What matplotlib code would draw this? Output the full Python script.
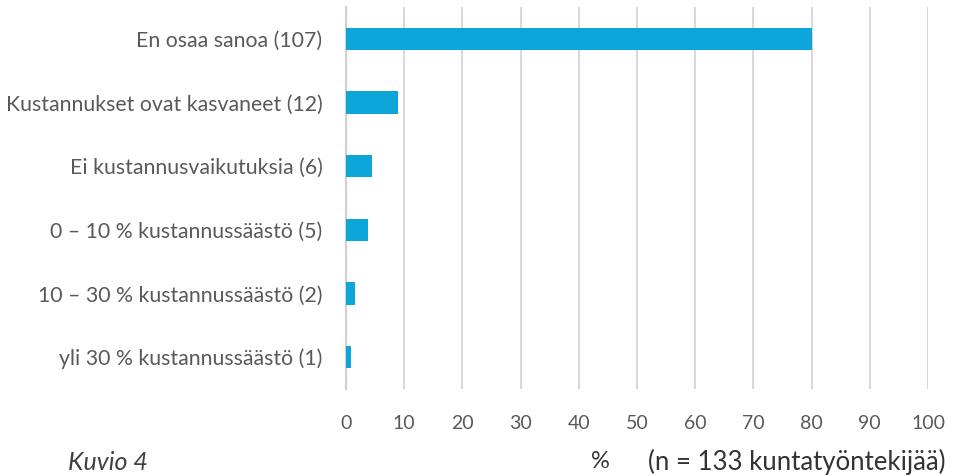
import matplotlib.pyplot as plt

# Vastausluokat ja osuudet (%), n = 133
luokat = ['En osaa sanoa (107)', 'Kustannukset ovat kasvaneet (12)',
          'Ei kustannusvaikutuksia (6)', '0 – 10 % kustannussäästö (5)',
          '10 – 30 % kustannussäästö (2)', 'yli 30 % kustannussäästö (1)']
osuudet = [80.1, 9.0, 4.5, 3.8, 1.5, 0.8]
x_ticks = [0, 10, 20, 30, 40, 50, 60, 70, 80, 90, 100]

plt.rcParams['font.family'] = ['Lato', 'DejaVu Sans']
teksti = '#595959'

fig = plt.figure(figsize=(9.55, 4.76), dpi=100)
ax = fig.add_axes([346 / 955, 1 - 389 / 476, (928 - 346) / 955, (389 - 7) / 476])

y = list(range(len(luokat)))
ax.barh(y, osuudet, height=0.35, color='#0EA5DB', zorder=3)
ax.set_ylim(len(luokat) - 0.5, -0.5)
ax.set_yticks(y)
ax.set_yticklabels(luokat, fontsize=15.3, color=teksti)
ax.set_xlim(0, 100)
ax.set_xticks(x_ticks)
ax.set_xticklabels([str(t) for t in x_ticks], fontsize=14, color=teksti)
ax.tick_params(length=0, axis='y', pad=17)
ax.tick_params(length=0, axis='x', pad=19)

ax.grid(axis='x', color='#D9D9D9', linewidth=1.5, zorder=0)
for s in ['top', 'right', 'bottom']:
    ax.spines[s].set_visible(False)
ax.spines['left'].set_color('#D0D0D0')
ax.spines['left'].set_linewidth(1.5)

fig.text(600 / 955, 1 - 462 / 476, '%', fontsize=17, color='#333333',
         ha='center', va='center')
fig.text(648 / 955, 1 - 462 / 476, '(n = 133 kuntatyöntekijää)', fontsize=18.5,
         color='#333333', ha='left', va='center')
fig.text(68 / 955, 1 - 462 / 476, 'Kuvio 4', fontsize=18, color='#404040',
         style='italic', ha='left', va='center')

fig.savefig('out.png', dpi=100)
